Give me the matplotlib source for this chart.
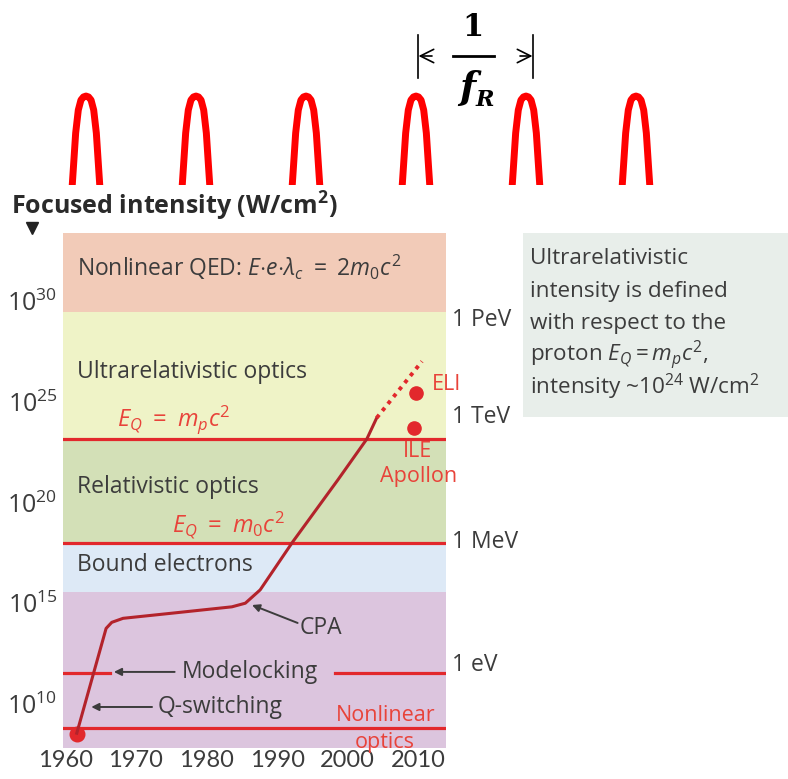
import numpy as np
import matplotlib
matplotlib.use("Agg")
import matplotlib.pyplot as plt
from matplotlib.patches import Rectangle

plt.rcParams['font.family'] = ['Open Sans', 'DejaVu Sans']
plt.rcParams['mathtext.fontset'] = 'custom'
plt.rcParams['mathtext.rm'] = 'Open Sans'
plt.rcParams['mathtext.it'] = 'Open Sans:italic'
plt.rcParams['mathtext.bf'] = 'Open Sans:bold'

# ---- data ----
# pulse train (top sketch): pulse centres in units of the repetition period
pulse_centres = [0, 1, 2, 3, 4, 5]
# one pulse profile: offset from centre (periods) and relative height
pulse_offset = [-0.130, -0.125, -0.110, -0.094, -0.070, -0.046, -0.023, 0.0,
                0.023, 0.046, 0.070, 0.094, 0.110, 0.125, 0.130]
pulse_height = [-0.1, 0.0, 0.28, 0.584, 0.843, 0.955, 0.990, 1.0,
                0.990, 0.955, 0.843, 0.584, 0.28, 0.0, -0.1]

# intensity regimes (log10 of W/cm^2)
band_edges = [7.80, 15.57, 18.0, 23.15, 29.47, 33.37]
band_colors = ['#dcc5de', '#dde9f6', '#d3e0b7', '#eff3c7', '#f2cbb8']
band_labels = ['', 'Bound electrons', 'Relativistic optics',
               'Ultrarelativistic optics',
               r'Nonlinear QED: $E{\cdot}e{\cdot}\lambda_c\ =\ 2m_0c^2$']
band_label_y = [None, 16.9, 20.75, 26.48, 31.64]

# laser peak intensity history
years = [1961.65, 1965.8, 1966.6, 1968.2, 1975.0, 1983.6, 1985.5, 1987.6,
         1992.2, 1998.6, 2002.7, 2004.1]
log_intensity = [8.55, 13.75, 14.05, 14.25, 14.5, 14.82, 15.0, 15.66,
                 18.04, 21.12, 23.15, 24.2]
proj_years = [2004.1, 2010.5]
proj_intensity = [24.2, 27.0]

# facilities
eli = (2009.7, 25.45)
ile = (2009.4, 23.71)
first_laser = (1961.65, 8.5)

# threshold lines
line_qp = 23.15      # E_Q = m_p c^2
line_q0 = 18.0       # E_Q = m_0 c^2
line_ml = 11.55      # Modelocking
line_nl = 8.79       # Nonlinear optics

energy_labels = ['1 PeV', '1 TeV', '1 MeV', '1 eV']
energy_y = [29.06, 24.24, 18.04, 11.94]

xticks = [1960, 1970, 1980, 1990, 2000, 2010]
yticks = [10, 15, 20, 25, 30]

GRAY = '#3c3c3c'
RED = '#e2282c'
RED_TXT = '#e8433a'
DARKRED = '#b3232b'

W, H = 788, 779
fig = plt.figure(figsize=(W / 100, H / 100), dpi=100)

# overlay in pixel coordinates for the loose annotations
ov = fig.add_axes([0, 0, 1, 1])
ov.set_xlim(0, W)
ov.set_ylim(H, 0)
ov.axis('off')

# ---- top: pulse train ----
pa = fig.add_axes([0, 1 - 185 / H, 1, 185 / H])
pa.set_xlim(-86 / 110, (W - 86) / 110)
pa.set_ylim(0, 2.08)
pa.axis('off')
for c in pulse_centres:
    pa.plot(np.array(pulse_offset) + c, pulse_height, color='#ff0000',
            lw=5.0, solid_capstyle='butt', solid_joinstyle='round')

# period marker 1/f_R
for xb in (418, 533):
    ov.plot([xb, xb], [35, 78], color='black', lw=1.2)
ov.annotate('', xy=(418.5, 56), xytext=(432, 56),
            arrowprops=dict(arrowstyle='->', color='black', lw=1.2,
                            mutation_scale=24, shrinkA=0, shrinkB=0))
ov.annotate('', xy=(532.5, 56), xytext=(520, 56),
            arrowprops=dict(arrowstyle='->', color='black', lw=1.2,
                            mutation_scale=24, shrinkA=0, shrinkB=0))
ov.plot([453, 494], [56, 56], color='black', lw=2)
ov.text(473, 36, '1', family='DejaVu Serif', weight='bold', fontsize=22,
        ha='center', va='baseline')
ov.text(467, 99, 'f', family='DejaVu Serif', weight='bold', style='italic',
        fontsize=27, ha='center', va='baseline')
ov.text(476, 106, 'R', family='DejaVu Serif', weight='bold', style='italic',
        fontsize=16, ha='left', va='baseline')

# ---- title of main chart ----
ov.text(11, 215, 'Focused intensity (W/cm$^\\mathbf{2}$)', fontsize=18,
        weight='bold', color='#2a2a2a', ha='left', va='baseline')
ov.plot([32], [228], marker='v', ms=9, color='#222222')

# ---- side note box ----
ov.add_patch(Rectangle((523, 233), W - 523, 184, facecolor='#e8eeea',
                       edgecolor='none'))
note_lines = ['Ultrarelativistic', 'intensity is defined', 'with respect to the',
              r'proton $E_Q = m_pc^2$,', r'intensity ~$10^{24}$ W/cm$^2$']
for i, s in enumerate(note_lines):
    ov.text(530, 264 + 32.5 * i, s, fontsize=16.2, color=GRAY,
            ha='left', va='baseline')

# ---- main chart ----
ax = fig.add_axes([63 / W, 1 - 748.3 / H, 383 / W, 515.3 / H], facecolor='none')
ax.set_xlim(1959.7, 2013.9)
ax.set_ylim(band_edges[0], band_edges[-1])
for sp in ax.spines.values():
    sp.set_visible(False)

for lo, hi, col in zip(band_edges[:-1], band_edges[1:], band_colors):
    ax.axhspan(lo, hi, color=col, lw=0, zorder=0)

x0 = 1961.7
for lab, yl in zip(band_labels, band_label_y):
    if lab:
        ax.text(x0, yl, lab, fontsize=16.5, color=GRAY, ha='left', va='center')

# red threshold lines
ax.axhline(line_qp, color=RED, lw=2.3, zorder=2)
ax.axhline(line_q0, color=RED, lw=2.3, zorder=2)
ax.axhline(line_nl, color=RED, lw=2.3, zorder=2)
ax.plot([1959.7, 1966.3], [line_ml, line_ml], color=RED, lw=2.3, zorder=2)
ax.plot([1998.2, 2013.9], [line_ml, line_ml], color=RED, lw=2.3, zorder=2)

ax.text(1967.3, 24.1, r'$E_Q\ =\ m_pc^2$', fontsize=17, color=RED_TXT,
        ha='left', va='center')
ax.text(1975.1, 18.88, r'$E_Q\ =\ m_0c^2$', fontsize=17, color=RED_TXT,
        ha='left', va='center')

# history curve
ax.plot(years, log_intensity, color=DARKRED, lw=2.2, zorder=3,
        solid_joinstyle='round')
ax.plot(proj_years, proj_intensity, color=RED, lw=2.8, ls=(0, (1.0, 1.3)),
        zorder=3)
ax.plot(*eli, 'o', color=RED, ms=9.5, zorder=4)
ax.plot(*ile, 'o', color=RED, ms=9.5, zorder=4)
ax.plot(*first_laser, 'o', color=RED, ms=10.5, zorder=1.5)

ax.text(2011.9, 25.83, 'ELI', fontsize=15.5, color=RED_TXT, ha='left', va='center')
ax.text(2009.85, 22.55, 'ILE', fontsize=15.5, color=RED_TXT, ha='center', va='center')
ax.text(2010.0, 21.27, 'Apollon', fontsize=15.5, color=RED_TXT, ha='center', va='center')
ax.text(2005.3, 9.45, 'Nonlinear', fontsize=15.5, color=RED_TXT, ha='center', va='center')
ax.text(2005.3, 8.11, 'optics', fontsize=15.5, color=RED_TXT, ha='center', va='center')

arrow = dict(arrowstyle='-|>', color=GRAY, lw=1.4, mutation_scale=11,
             shrinkA=0, shrinkB=0)
ax.text(1993.2, 13.77, 'CPA', fontsize=16.5, color=GRAY, ha='left', va='center')
ax.annotate('', xy=(1986.45, 14.91), xytext=(1992.9, 14.02), arrowprops=arrow)
ax.text(1976.5, 11.59, 'Modelocking', fontsize=16.5, color=GRAY, ha='left', va='center')
ax.annotate('', xy=(1966.9, 11.59), xytext=(1975.5, 11.59), arrowprops=arrow)
ax.text(1973.1, 9.85, 'Q-switching', fontsize=16.5, color=GRAY, ha='left', va='center')
ax.annotate('', xy=(1963.7, 9.85), xytext=(1972.3, 9.85), arrowprops=arrow)

for lab, yl in zip(energy_labels, energy_y):
    ax.text(2014.7, yl, lab, fontsize=16.5, color=GRAY, ha='left', va='center',
            clip_on=False)

ax.set_xticks(xticks)
ax.set_xticklabels([str(v) for v in xticks], fontsize=17, color=GRAY,
                   family=['Lato', 'DejaVu Sans'])
ax.set_yticks(yticks)
ax.set_yticklabels([r'$10^{%d}$' % v for v in yticks], fontsize=18, color=GRAY)
ax.tick_params(length=0)
ax.tick_params(axis='x', pad=1.5)
ax.tick_params(axis='y', pad=4)

fig.savefig('out.png', dpi=100)
